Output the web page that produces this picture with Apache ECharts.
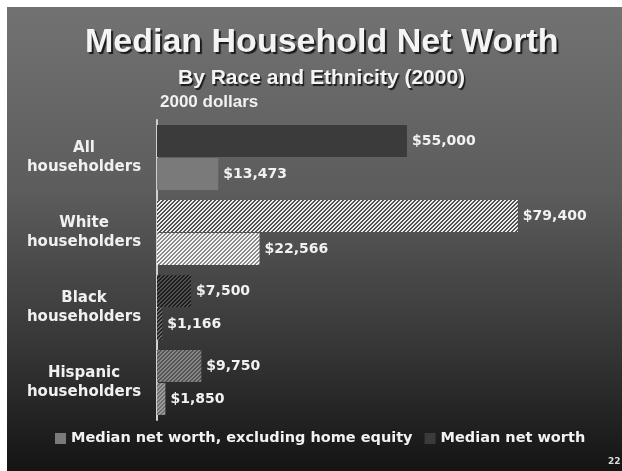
<!DOCTYPE html>
<html>
<head>
<meta charset="utf-8">
<script src="https://cdn.jsdelivr.net/npm/echarts@6/dist/echarts.min.js"></script>
<style>
html,body{margin:0;padding:0;background:#fff;}
#chart{width:622px;height:471px;}
</style>
</head>
<body>
<div id="chart"></div>
<script>
// ---- data ----
var categories = ['All householders', 'White householders', 'Black householders', 'Hispanic householders'];
var netWorth = [55000, 79400, 7500, 9750];
var excludingHomeEquity = [13473, 22566, 1166, 1850];
var seriesNames = ['Median net worth, excluding home equity', 'Median net worth'];

// ---- styles ----
function stripe(bg, fg) {
  var size = 4;
  var c = document.createElement('canvas');
  c.width = size; c.height = size;
  var g = c.getContext('2d');
  for (var y = 0; y < size; y++) {
    for (var x = 0; x < size; x++) {
      g.fillStyle = ((x + y) % 4) < 2 ? fg : bg;
      g.fillRect(x, y, 1, 1);
    }
  }
  return { image: c, repeat: 'repeat' };
}
var netStyles = ['#3b3b3b', stripe('#505050', '#eeeeee'), stripe('#1c1c1c', '#505050'), stripe('#555555', '#858585')];
var exclStyles = ['#7a7a7a', stripe('#8a8a8a', '#f6f6f6'), stripe('#222222', '#686868'), stripe('#707070', '#9c9c9c')];

function fmt(v) { return '$' + v.toLocaleString('en-US'); }

var font = '"DejaVu Sans", Verdana, sans-serif';
var labelCfg = {
  show: true, position: 'right', distance: 5,
  color: '#f2f2f2', fontFamily: font, fontWeight: 'bold', fontSize: 14,
  formatter: function (p) { return fmt(p.value); }
};

var chart = echarts.init(document.getElementById('chart'), null, { renderer: 'canvas' });
chart.setOption({
  backgroundColor: '#ffffff',
  animation: false,
  graphic: [
    { type: 'rect', z: -10, left: 7, top: 7, shape: { width: 615, height: 464 },
      style: { fill: new echarts.graphic.LinearGradient(0, 0, 0, 1, [
        { offset: 0, color: '#727272' }, { offset: 0.4, color: '#5c5c5c' },
        { offset: 0.75, color: '#343434' }, { offset: 1, color: '#141414' }]) } },
    { type: 'text', left: 160, top: 94, style: { text: '2000 dollars', fill: '#f2f2f2',
      font: 'bold 17px "Liberation Sans", Arial, sans-serif' } },
    { type: 'text', left: 608, top: 457, style: { text: '22', fill: '#dddddd',
      font: 'bold 9px "DejaVu Sans", sans-serif' } }
  ],
  title: [
    { text: 'Median Household Net Worth', left: 80, top: 21,
      textStyle: { color: '#f4f4f4', fontFamily: '"Liberation Sans", Arial, sans-serif', fontWeight: 'bold', fontSize: 34,
        textShadowColor: '#1a1a1a', textShadowOffsetX: 2, textShadowOffsetY: 2, textShadowBlur: 1 } },
    { text: 'By Race and Ethnicity (2000)', left: 173, top: 63,
      textStyle: { color: '#f4f4f4', fontFamily: '"Liberation Sans", Arial, sans-serif', fontWeight: 'bold', fontSize: 21,
        textShadowColor: '#1a1a1a', textShadowOffsetX: 1.5, textShadowOffsetY: 1.5, textShadowBlur: 1 } }
  ],
  legend: {
    data: seriesNames, bottom: 20, left: 50, icon: 'rect', itemWidth: 11, itemHeight: 11, itemGap: 12,
    textStyle: { color: '#f2f2f2', fontFamily: font, fontWeight: 'bold', fontSize: 14.5 }
  },
  grid: { left: 157, top: 120, width: 454.5, height: 300 },
  xAxis: { type: 'value', min: 0, max: 100000, show: false },
  yAxis: {
    type: 'category', data: categories, inverse: true,
    axisLine: { show: true, lineStyle: { color: '#d0d0d0', width: 2 } },
    axisTick: { show: false },
    axisLabel: {
      align: 'center', margin: 73, color: '#f0f0f0', fontFamily: font, fontWeight: 'bold', fontSize: 15, lineHeight: 19,
      formatter: function (v) { return v.replace(' ', '\n'); }
    }
  },
  series: [
    { name: seriesNames[1], type: 'bar', barWidth: 32, barGap: '3%', barCategoryGap: '15%',
      itemStyle: { color: '#3b3b3b' }, label: labelCfg,
      data: netWorth.map(function (v, i) { return { value: v, itemStyle: { color: netStyles[i] } }; }) },
    { name: seriesNames[0], type: 'bar', barWidth: 32, barGap: '3%', barCategoryGap: '15%',
      itemStyle: { color: '#7a7a7a' }, label: labelCfg,
      data: excludingHomeEquity.map(function (v, i) { return { value: v, itemStyle: { color: exclStyles[i] } }; }) }
  ]
});
</script>
</body>
</html>
